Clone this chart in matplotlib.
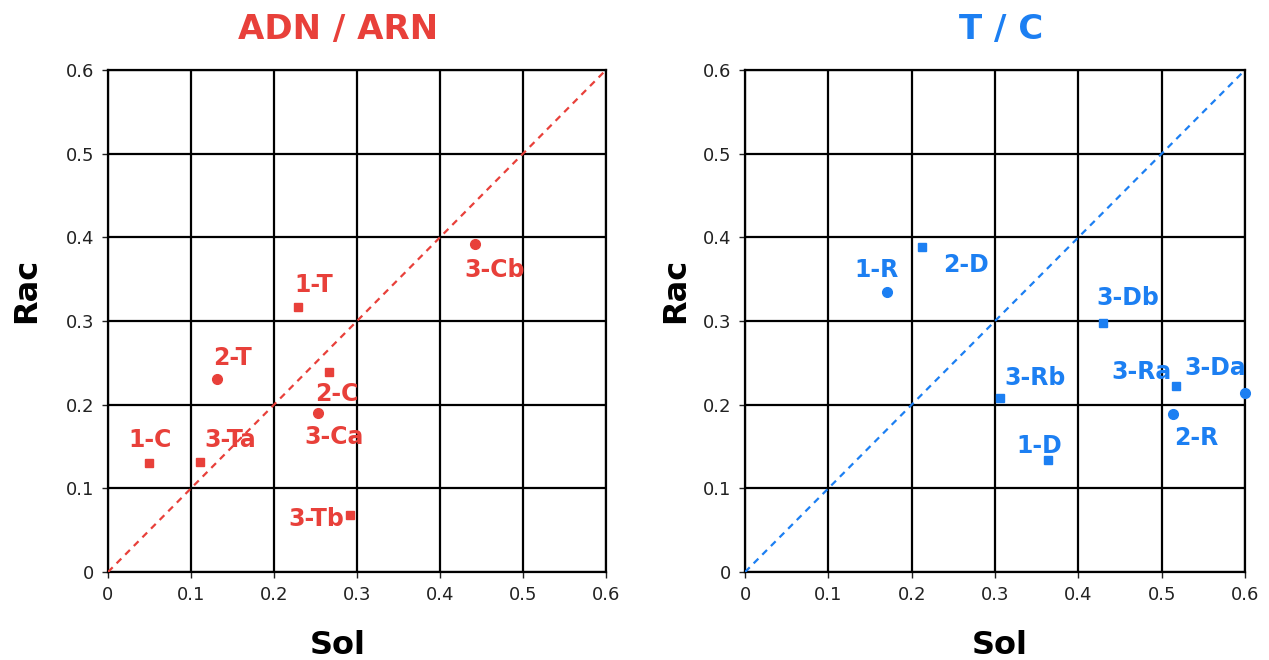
import matplotlib
matplotlib.use("Agg")
import matplotlib.pyplot as plt

# Data: ADN / ARN panel
adn_labels = ["1-C", "3-Ta", "2-T", "1-T", "2-C", "3-Ca", "3-Tb", "3-Cb"]
adn_sol = [0.049, 0.111, 0.131, 0.229, 0.266, 0.253, 0.292, 0.442]
adn_rac = [0.130, 0.131, 0.231, 0.317, 0.239, 0.190, 0.068, 0.392]
adn_marker = ["s", "s", "o", "s", "s", "o", "s", "o"]

# Data: T / C panel
tc_labels = ["1-R", "2-D", "3-Db", "3-Rb", "1-D", "3-Ra", "3-Da", "2-R"]
tc_sol = [0.170, 0.212, 0.430, 0.306, 0.364, 0.517, 0.600, 0.513]
tc_rac = [0.335, 0.388, 0.298, 0.208, 0.134, 0.222, 0.214, 0.189]
tc_marker = ["o", "s", "s", "s", "s", "s", "o", "o"]

ticks = [0, 0.1, 0.2, 0.3, 0.4, 0.5, 0.6]
tick_labels = ["0", "0.1", "0.2", "0.3", "0.4", "0.5", "0.6"]

RED = "#E8403A"
BLUE = "#1C7FF2"

# label offsets in pixels (dx, dy, ha)
adn_off = [(1, 23, "center"), (30, 22, "center"), (16, 21, "center"), (16, 22, "center"),
           (8, -22, "center"), (16, -24, "center"), (-6, -4, "right"), (20, -26, "center")]
tc_off = [(-10, 22, "center"), (44, -18, "center"), (24, 25, "center"), (35, 20, "center"),
          (-9, 14, "center"), (-4, 14, "right"), (-30, 25, "center"), (24, -24, "center")]

fig = plt.figure(figsize=(12.69, 6.6), dpi=100)


def panel(rect, sol, rac, labels, markers, offs, color):
    ax = fig.add_axes(rect)
    ax.set_xlim(0, 0.6)
    ax.set_ylim(0, 0.6)
    ax.set_xticks(ticks)
    ax.set_xticklabels(tick_labels)
    ax.set_yticks(ticks)
    ax.set_yticklabels(tick_labels)
    ax.grid(True, color="black", linewidth=1.6)
    for s in ax.spines.values():
        s.set_linewidth(1.6)
    ax.tick_params(length=4, width=1, labelsize=13, colors="#222222", pad=6)
    ax.plot([0, 0.6], [0, 0.6], linestyle=(0, (3, 2.5)), color=color, linewidth=1.6, zorder=3)
    for x, y, lab, m, (dx, dy, ha) in zip(sol, rac, labels, markers, offs):
        ax.plot(x, y, marker=m, color=color, markersize=6 if m == "s" else 7,
                linestyle="none", zorder=4, clip_on=False)
        ax.annotate(lab, (x, y), xytext=(dx * 0.72, dy * 0.72), textcoords="offset points",
                    ha=ha, va="center", fontsize=17, fontweight="bold", color=color,
                    zorder=5)
    return ax


panel([0.0851, 0.1333, 0.3924, 0.7606], adn_sol, adn_rac, adn_labels, adn_marker, adn_off, RED)
panel([0.5871, 0.1333, 0.3940, 0.7606], tc_sol, tc_rac, tc_labels, tc_marker, tc_off, BLUE)

fig.text(338 / 1269, 1 - 30 / 660, "ADN / ARN", ha="center", va="center",
         fontsize=24.5, fontweight="bold", color=RED)
fig.text(1001 / 1269, 1 - 30 / 660, "T / C", ha="center", va="center",
         fontsize=24.5, fontweight="bold", color=BLUE)
for x in (338, 1000):
    fig.text(x / 1269, 1 - 645 / 660, "Sol", ha="center", va="center",
             fontsize=23, fontweight="bold")
for x in (27, 676):
    fig.text(x / 1269, 1 - 290 / 660, "Rac", ha="center", va="center",
             fontsize=23, fontweight="bold", rotation=90)

fig.savefig("out.png", dpi=100)
